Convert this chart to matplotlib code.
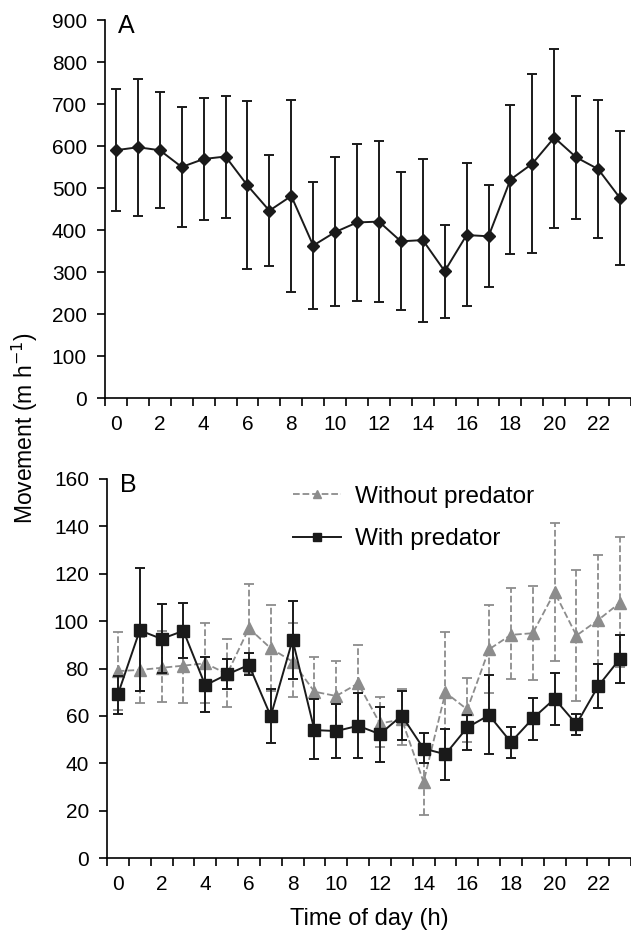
import matplotlib
matplotlib.use("Agg")
import matplotlib.pyplot as plt
from matplotlib.lines import Line2D
import numpy as np

plt.rcParams.update({
    "font.family": ["Liberation Sans", "DejaVu Sans"],
    "font.size": 15,
    "axes.linewidth": 1.2,
})

hours = list(range(24))

# Panel A: movement (mean, upper and lower error ends)
a_mean = [590, 597, 590, 550, 569, 575, 506, 446, 481, 363, 395, 418,
          420, 373, 376, 302, 388, 385, 520, 558, 620, 573, 545, 476]
a_high = [735, 760, 728, 693, 714, 720, 706, 578, 709, 515, 573, 604,
          612, 537, 568, 411, 559, 507, 697, 771, 830, 720, 710, 635]
a_low = [446, 433, 452, 406, 423, 429, 306, 315, 253, 211, 219, 230,
         228, 209, 181, 191, 218, 264, 342, 345, 405, 426, 380, 317]

# Panel B: without predator
wo_mean = [78.9, 79.4, 80.3, 81.2, 82.2, 77.7, 97.0, 88.5, 82.9, 70.2, 68.4, 73.7,
           56.8, 58.5, 32.1, 69.9, 62.7, 88.1, 94.2, 94.9, 112.2, 93.9, 100.5, 107.8]
wo_high = [95.3, 93.3, 96.0, 97.0, 99.4, 92.6, 115.7, 106.7, 99.2, 85.0, 83.2, 90.1,
           67.8, 71.2, 46.0, 95.3, 76.1, 106.6, 113.8, 114.9, 141.5, 121.4, 128.1, 135.5]
wo_low = [62.5, 65.5, 66.0, 65.3, 65.3, 63.6, 78.3, 70.3, 68.1, 55.4, 53.6, 57.3,
          46.7, 47.6, 18.3, 44.5, 49.1, 69.6, 75.4, 75.1, 83.2, 66.3, 72.9, 80.5]

# Panel B: with predator
w_mean = [69.1, 96.1, 92.5, 95.9, 72.9, 77.5, 81.5, 59.9, 92.1, 54.0, 53.6, 55.8,
          52.3, 60.1, 46.2, 43.8, 55.1, 60.3, 48.9, 58.9, 67.2, 56.5, 72.6, 84.2]
w_high = [77.0, 122.5, 107.1, 107.6, 84.7, 83.9, 86.5, 71.5, 108.4, 67.0, 65.0, 69.5,
          63.9, 70.6, 52.6, 54.3, 60.3, 77.2, 55.4, 67.7, 78.0, 61.0, 81.9, 94.3]
w_low = [60.8, 70.5, 78.0, 84.3, 61.5, 71.5, 77.2, 48.6, 75.7, 41.6, 42.3, 42.3,
         40.6, 49.8, 40.2, 33.1, 45.5, 43.7, 42.4, 50.0, 56.2, 52.0, 63.2, 74.0]

DARK = "#1a1a1a"
GREY = "#8c8c8c"


def yerr(mean, high, low):
    m = np.array(mean)
    return [m - np.array(low), np.array(high) - m]


def style_axis(ax):
    ax.spines["top"].set_visible(False)
    ax.spines["right"].set_visible(False)
    ax.set_xlim(-0.5, 23.5)
    ax.set_xticks(np.arange(-0.5, 24, 1))
    ax.set_xticklabels([])
    ax.set_xticks(hours[::2], minor=True)
    ax.set_xticklabels([str(h) for h in hours[::2]], minor=True)
    ax.tick_params(axis="x", which="major", direction="out", length=6, width=1.2)
    ax.tick_params(axis="x", which="minor", length=0, pad=12)
    ax.tick_params(axis="y", direction="out", length=6, width=1.2, pad=7)


fig = plt.figure(figsize=(6.31, 9.32), dpi=100)
W, H = 631, 932
axA = fig.add_axes([105 / W, 1 - 398 / H, (W - 105) / W, 378 / H])
axB = fig.add_axes([107 / W, 1 - 858 / H, (W - 107) / W, 379 / H])

# Panel A
axA.errorbar(hours, a_mean, yerr=yerr(a_mean, a_high, a_low), color=DARK,
             marker="D", markersize=6.5, linewidth=1.4, elinewidth=1.4,
             capsize=3.5, capthick=1.4)
axA.set_ylim(0, 900)
axA.set_yticks(range(0, 901, 100))
style_axis(axA)
axA.text(0.025, 0.985, "A", transform=axA.transAxes, fontsize=18, va="center", ha="left")

# Panel B
eb = axB.errorbar(hours, wo_mean, yerr=yerr(wo_mean, wo_high, wo_low), color=GREY,
                  marker="^", markersize=8, linewidth=1.3, elinewidth=1.3,
                  capsize=3.5, capthick=1.3, linestyle="--", zorder=2)
eb[-1][0].set_linestyle("--")
axB.errorbar(hours, w_mean, yerr=yerr(w_mean, w_high, w_low), color=DARK,
             marker="s", markersize=8.5, linewidth=1.4, elinewidth=1.4,
             capsize=3.5, capthick=1.4, zorder=3)
axB.set_ylim(0, 160)
axB.set_yticks(range(0, 161, 20))
style_axis(axB)
axB.text(0.025, 0.985, "B", transform=axB.transAxes, fontsize=18, va="center", ha="left")
axB.set_xlabel("Time of day (h)", fontsize=17, labelpad=10)

handles = [
    Line2D([], [], color=GREY, linestyle="--", marker="^", markersize=6, linewidth=1.3),
    Line2D([], [], color=DARK, linestyle="-", marker="s", markersize=6, linewidth=1.4),
]
axB.legend(handles, ["Without predator", "With predator"], loc="upper left",
           bbox_to_anchor=(0.313, 1.04), frameon=False, fontsize=17.5,
           handlelength=2.0, handletextpad=0.55, labelspacing=0.85)

fig.text(25 / W, 1 - 428 / H, "Movement (m h$^{-1}$)", rotation=90,
         va="center", ha="center", fontsize=16.5)

fig.savefig("out.png", dpi=100)
